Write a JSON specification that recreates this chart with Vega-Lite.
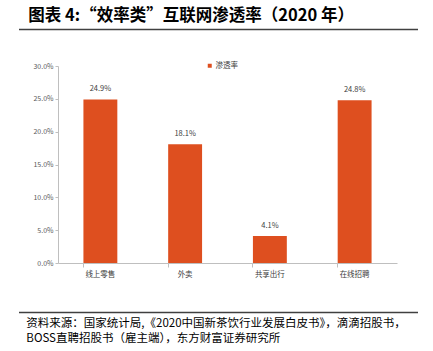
{
  "$schema": "https://vega.github.io/schema/vega-lite/v6.json",
  "background": "white",
  "padding": {"left": 18, "top": 8, "right": 16, "bottom": 2},
  "spacing": 31,
  "resolve": {"legend": {"color": "independent"}, "scale": {"color": "independent"}},
  "config": {"view": {"stroke": null}, "font": "Noto Sans CJK SC"},
  "vconcat": [
    {
      "width": 399, "height": 1,
      "data": {"values": [{"start": 0, "end": 1}]},
      "mark": {"type": "rule", "color": "#404040", "strokeWidth": 1.3},
      "encoding": {
        "x": {"field": "start", "type": "quantitative", "scale": {"domain": [0, 1]}, "axis": null},
        "x2": {"field": "end"}
      },
      "title": {"text": "图表  4:“效率类”互联网渗透率（2020 年）", "orient": "top", "anchor": "start", "fontSize": 16.5, "fontWeight": "bold", "color": "#000000", "offset": 4, "dx": 10}
    },
    {
      "width": 399, "height": 197,
      "data": {"values": [
        {"category": "线上零售", "value": 0.249, "series": "渗透率"},
        {"category": "外卖", "value": 0.181, "series": "渗透率"},
        {"category": "共享出行", "value": 0.041, "series": "渗透率"},
        {"category": "在线招聘", "value": 0.248, "series": "渗透率"}
      ]},
      "encoding": {
        "x": {"field": "category", "type": "nominal", "sort": null,
          "scale": {"range": [39, 378], "paddingInner": 0.6, "paddingOuter": 0.3},
          "axis": {"title": null, "labelAngle": 0, "labelFontSize": 7.5, "labelColor": "#404040", "domainColor": "#BFBFBF", "tickColor": "#BFBFBF", "tickSize": 4, "bandPosition": 0, "labelPadding": 3, "minExtent": 17}},
        "y": {"field": "value", "type": "quantitative",
          "scale": {"domain": [0, 0.3]},
          "axis": {"title": null, "offset": -39, "format": ".1%", "values": [0, 0.05, 0.1, 0.15, 0.2, 0.25, 0.3], "grid": false, "labelFontSize": 7, "labelColor": "#595959", "domainColor": "#BFBFBF", "tickColor": "#BFBFBF", "tickSize": 3, "labelPadding": 2}}
      },
      "layer": [
        {
          "mark": {"type": "bar"},
          "encoding": {
            "color": {"field": "series", "type": "nominal",
              "scale": {"range": ["#DE4F1F"]},
              "legend": {"title": null, "orient": "none", "legendX": 187, "legendY": -4, "symbolType": "square", "symbolSize": 16, "labelFontSize": 7.5, "labelColor": "#404040", "labelOffset": 2}}
          }
        },
        {
          "mark": {"type": "text", "dy": -6, "baseline": "bottom", "fontSize": 7.5, "color": "#404040"},
          "encoding": {"text": {"field": "value", "format": ".1%"}}
        }
      ]
    },
    {
      "width": 399, "height": 1,
      "data": {"values": [{"start": 0, "end": 1}]},
      "mark": {"type": "rule", "color": "#404040", "strokeWidth": 1.3},
      "encoding": {
        "x": {"field": "start", "type": "quantitative", "scale": {"domain": [0, 1]}, "axis": null},
        "x2": {"field": "end"}
      },
      "title": {"text": ["资料来源：国家统计局,《2020中国新茶饮行业发展白皮书》，滴滴招股书，", "BOSS直聘招股书（雇主端），东方财富证券研究所"], "orient": "bottom", "anchor": "start", "fontSize": 11.5, "fontWeight": "normal", "color": "#000000", "lineHeight": 14.5, "offset": 5, "dx": 8}
    }
  ]
}
